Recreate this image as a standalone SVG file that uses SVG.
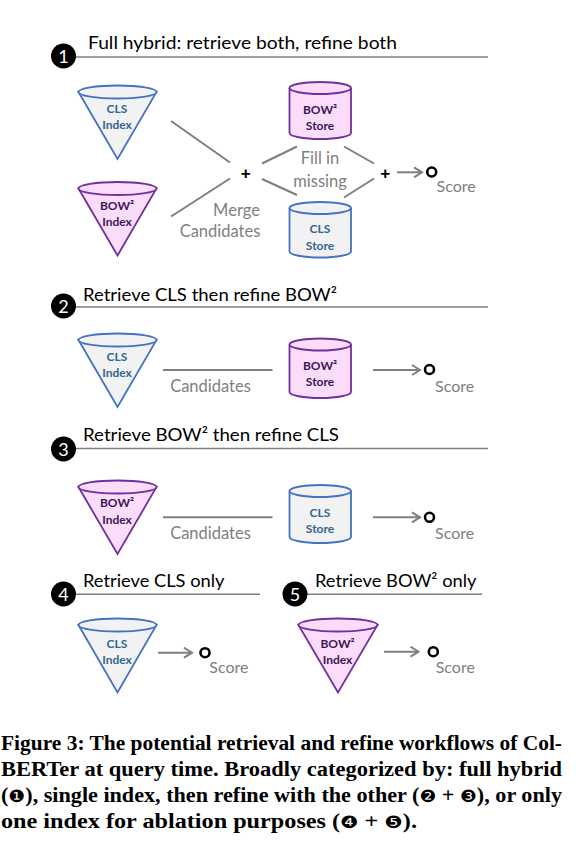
<svg xmlns="http://www.w3.org/2000/svg" width="588" height="856" viewBox="0 0 588 856">
<defs>
<style>
.title{font-family:Lato,"Liberation Sans",sans-serif;font-size:17.5px;fill:#000}
.hline{stroke:#7f7f7f;stroke-width:1.6;fill:none}
.badge{fill:#000}
.bnum{font-family:Lato,"Liberation Sans",sans-serif;font-size:18px;fill:#fff;text-anchor:middle}
.conn{stroke:#7f7f7f;stroke-width:2;fill:none}
.arrow{stroke:#7f7f7f;stroke-width:2;fill:none;marker-end:url(#chev)}
.glabel{font-family:Lato,"Liberation Sans",sans-serif;font-size:16.5px;fill:#7f7f7f;text-anchor:middle}
.score{font-family:Lato,"Liberation Sans",sans-serif;font-size:16px;fill:#7f7f7f}
.dot{fill:#fff;stroke:#000;stroke-width:2.6}
.plus{font-family:"Liberation Sans",sans-serif;font-size:17px;font-weight:bold;fill:#000;text-anchor:middle}
.cls{fill:#f2f2f2;stroke:#4472c4;stroke-width:1.8}
.bow{fill:#fbdcfb;stroke:#7030a0;stroke-width:1.8}
.clst{font-family:Lato,"Liberation Sans",sans-serif;font-size:12px;font-weight:bold;fill:#336690;text-anchor:middle}
.bowt{font-family:Lato,"Liberation Sans",sans-serif;font-size:12px;font-weight:bold;fill:#3d1656;text-anchor:middle}
.cap{font-family:"Liberation Serif",serif;font-size:20px;font-weight:bold;fill:#000}
.circ{font-family:"DejaVu Sans",sans-serif;font-weight:normal;font-size:17px}
</style>
<marker id="chev" markerUnits="userSpaceOnUse" markerWidth="12" markerHeight="14" refX="9" refY="6" orient="auto">
<path d="M1,1 L9,6 L1,11" fill="none" stroke="#7f7f7f" stroke-width="2"/>
</marker>
</defs>

<!-- Section headers -->
<g id="header1">
<line class="hline" x1="70" y1="57" x2="488" y2="57"/>
<circle class="badge" cx="63.5" cy="56" r="12.5"/>
<text class="bnum" x="63.5" y="62.5">1</text>
<text class="title" x="88" y="48.5" textLength="309" lengthAdjust="spacingAndGlyphs">Full hybrid: retrieve both, refine both</text>
</g>
<g id="header2">
<line class="hline" x1="70" y1="307" x2="488" y2="307"/>
<circle class="badge" cx="63.5" cy="306" r="12.5"/>
<text class="bnum" x="63.5" y="312.5">2</text>
<text class="title" x="83" y="300.7" textLength="254" lengthAdjust="spacingAndGlyphs">Retrieve CLS then refine BOW²</text>
</g>
<g id="header3">
<line class="hline" x1="70" y1="448.5" x2="488" y2="448.5"/>
<circle class="badge" cx="63.5" cy="449" r="12.5"/>
<text class="bnum" x="63.5" y="455.5">3</text>
<text class="title" x="83" y="440.7" textLength="256" lengthAdjust="spacingAndGlyphs">Retrieve BOW²  then refine CLS</text>
</g>
<g id="header4">
<line class="hline" x1="70" y1="594.3" x2="260" y2="594.3"/>
<circle class="badge" cx="63.5" cy="594" r="12.5"/>
<text class="bnum" x="63.5" y="600.5">4</text>
<text class="title" x="83" y="587.3" textLength="141.5" lengthAdjust="spacingAndGlyphs">Retrieve CLS only</text>
</g>
<g id="header5">
<line class="hline" x1="300" y1="594.3" x2="482" y2="594.3"/>
<circle class="badge" cx="295" cy="594" r="12.5"/>
<text class="bnum" x="295" y="600.5">5</text>
<text class="title" x="315" y="587.3" textLength="161.5" lengthAdjust="spacingAndGlyphs">Retrieve BOW² only</text>
</g>

<!-- Connectors -->
<g id="connectors">
<line class="conn" x1="171" y1="121" x2="230" y2="162.5"/>
<line class="conn" x1="171" y1="216.5" x2="230" y2="178.5"/>
<line class="conn" x1="262" y1="163.5" x2="297" y2="146.5"/>
<line class="conn" x1="262" y1="179" x2="297" y2="195"/>
<line class="conn" x1="344" y1="146.5" x2="374" y2="163.5"/>
<line class="conn" x1="344" y1="197.5" x2="374" y2="178.5"/>
<line class="arrow" x1="397" y1="172.3" x2="422" y2="172.3"/>
<line class="conn" x1="163" y1="370" x2="272.5" y2="370"/>
<line class="arrow" x1="373" y1="370" x2="420" y2="370"/>
<line class="conn" x1="163" y1="517.3" x2="272.5" y2="517.3"/>
<line class="arrow" x1="373" y1="517.3" x2="420" y2="517.3"/>
<line class="arrow" x1="158" y1="652.7" x2="192" y2="652.7"/>
<line class="arrow" x1="384" y1="651.7" x2="418.5" y2="651.7"/>
</g>

<!-- Section 1 -->
<g id="cls-index-1">
<path class="cls" d="M78.5,92 L117.5,159 L156.5,92 Z"/>
<ellipse class="cls" cx="117.5" cy="92" rx="39" ry="6.5"/>
<text class="clst" x="117" y="113">CLS</text>
<text class="clst" x="117" y="129.3">Index</text>
</g>
<g id="bow-index-1">
<path class="bow" d="M78.5,188.5 L117.5,255.5 L156.5,188.5 Z"/>
<ellipse class="bow" cx="117.5" cy="188.5" rx="39" ry="6.5"/>
<text class="bowt" x="117" y="210">BOW²</text>
<text class="bowt" x="117" y="226.3">Index</text>
</g>
<g id="plus-1">
<text class="plus" x="245.7" y="178.5">+</text>
</g>
<g id="bow-store-1">
<path class="bow" d="M289.5,88 V133 A30.75,6 0 0 0 351,133 V88"/>
<ellipse class="bow" cx="320.25" cy="88" rx="30.75" ry="6"/>
<text class="bowt" x="320" y="113.5">BOW²</text>
<text class="bowt" x="320" y="130">Store</text>
</g>
<g id="cls-store-1">
<path class="cls" d="M289.5,208 V251.5 A30.75,6 0 0 0 351,251.5 V208"/>
<ellipse class="cls" cx="320.25" cy="208" rx="30.75" ry="6"/>
<text class="clst" x="320" y="232.5">CLS</text>
<text class="clst" x="320" y="249.5">Store</text>
</g>
<g id="labels-1">
<text class="glabel" x="320" y="164">Fill in</text>
<text class="glabel" x="320" y="186.7">missing</text>
<text class="glabel" x="236.5" y="216">Merge</text>
<text class="glabel" x="220" y="236.7">Candidates</text>
</g>
<g id="plus-2">
<text class="plus" x="385.3" y="178.5">+</text>
</g>
<g id="score-1">
<circle class="dot" cx="431.7" cy="172" r="4.5"/>
<text class="score" x="436.5" y="191.7">Score</text>
</g>

<!-- Section 2 -->
<g id="cls-index-2">
<path class="cls" d="M78.5,340 L117.5,407 L156.5,340 Z"/>
<ellipse class="cls" cx="117.5" cy="340" rx="39" ry="6.5"/>
<text class="clst" x="117" y="361">CLS</text>
<text class="clst" x="117" y="377">Index</text>
</g>
<g id="label-2">
<text class="glabel" x="210.5" y="391.7">Candidates</text>
</g>
<g id="bow-store-2">
<path class="bow" d="M289.5,344.5 V392 A30.75,6 0 0 0 351,392 V344.5"/>
<ellipse class="bow" cx="320.25" cy="344.5" rx="30.75" ry="6"/>
<text class="bowt" x="320" y="370">BOW²</text>
<text class="bowt" x="320" y="386">Store</text>
</g>
<g id="score-2">
<circle class="dot" cx="429.5" cy="369.5" r="4.5"/>
<text class="score" x="435" y="391.7">Score</text>
</g>

<!-- Section 3 -->
<g id="bow-index-3">
<path class="bow" d="M78.5,487 L117.5,554 L156.5,487 Z"/>
<ellipse class="bow" cx="117.5" cy="487" rx="39" ry="6.5"/>
<text class="bowt" x="117" y="507">BOW²</text>
<text class="bowt" x="117" y="524">Index</text>
</g>
<g id="label-3">
<text class="glabel" x="210.5" y="538.5">Candidates</text>
</g>
<g id="cls-store-3">
<path class="cls" d="M289.5,491 V537 A30.75,6 0 0 0 351,537 V491"/>
<ellipse class="cls" cx="320.25" cy="491" rx="30.75" ry="6"/>
<text class="clst" x="320" y="517">CLS</text>
<text class="clst" x="320" y="532.5">Store</text>
</g>
<g id="score-3">
<circle class="dot" cx="429.5" cy="517.3" r="4.5"/>
<text class="score" x="435" y="538.5">Score</text>
</g>

<!-- Section 4 -->
<g id="cls-index-4">
<path class="cls" d="M78.5,625 L117.5,692.5 L156.5,625 Z"/>
<ellipse class="cls" cx="117.5" cy="625" rx="39" ry="6.5"/>
<text class="clst" x="117" y="647.5">CLS</text>
<text class="clst" x="117" y="663.5">Index</text>
</g>
<g id="score-4">
<circle class="dot" cx="205" cy="652.7" r="4.5"/>
<text class="score" x="209.3" y="673.3">Score</text>
</g>

<!-- Section 5 -->
<g id="bow-index-5">
<path class="bow" d="M298.5,625 L338,692.5 L377.5,625 Z"/>
<ellipse class="bow" cx="338" cy="625" rx="39.5" ry="6.5"/>
<text class="bowt" x="337.5" y="647.5">BOW²</text>
<text class="bowt" x="337.5" y="663.5">Index</text>
</g>
<g id="score-5">
<circle class="dot" cx="433.3" cy="651.7" r="4.5"/>
<text class="score" x="435.7" y="673.3">Score</text>
</g>

<!-- Caption -->
<g id="caption">
<text class="cap" x="1" y="750" textLength="561" lengthAdjust="spacingAndGlyphs">Figure 3: The potential retrieval and refine workflows of Col-</text>
<text class="cap" x="1" y="776" textLength="561" lengthAdjust="spacingAndGlyphs">BERTer at query time. Broadly categorized by: full hybrid</text>
<text class="cap" x="1" y="802" textLength="561" lengthAdjust="spacingAndGlyphs">(<tspan class="circ">❶</tspan>), single index, then refine with the other (<tspan class="circ">❷</tspan> + <tspan class="circ">❸</tspan>), or only</text>
<text class="cap" x="1" y="828" textLength="416" lengthAdjust="spacingAndGlyphs">one index for ablation purposes (<tspan class="circ">❹</tspan> + <tspan class="circ">❺</tspan>).</text>
</g>
</svg>
